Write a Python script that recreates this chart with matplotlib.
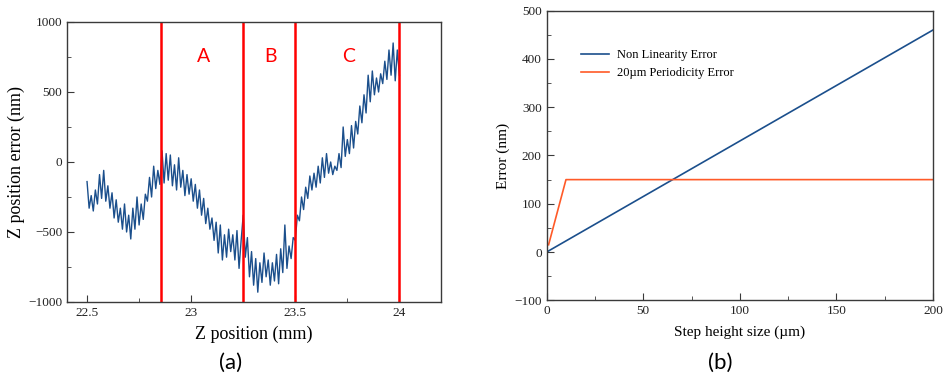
import matplotlib
matplotlib.use("Agg")
import numpy as np
import matplotlib.pyplot as plt
from matplotlib.ticker import AutoMinorLocator

z_start = 22.50
z_step = 0.01
z_error = [
    -140, -330, -240, -350, -200, -300, -90, -260, -60, -280,
    -170, -330, -220, -400, -270, -430, -330, -480, -300, -500,
    -380, -550, -330, -480, -250, -450, -300, -410, -230, -280,
    -110, -250, -30, -190, -60, -160, 80, -150, 60, -130,
    50, -170, -20, -200, 30, -180, -60, -240, -90, -230,
    -120, -280, -160, -330, -200, -380, -260, -440, -330, -480,
    -400, -560, -430, -650, -450, -700, -520, -680, -480, -640,
    -520, -700, -490, -760, -560, -380, -680, -540, -820, -640,
    -880, -690, -930, -720, -860, -650, -820, -700, -880, -720,
    -850, -660, -870, -620, -790, -450, -760, -600, -690, -540,
    -560, -380, -420, -250, -340, -180, -260, -100, -200, -80,
    -180, -30, -150, 30, -110, 60, -80, 0, -90, -30,
    -60, 60, -40, 250, 40, 160, 60, 260, 100, 290,
    200, 400, 280, 480, 350, 620, 430, 650, 480, 600,
    500, 630, 560, 720, 590, 800, 620, 850, 580, 800, 620,
]
region_bounds = [22.855, 23.247, 23.5, 24.0]
region_names = ["A", "B", "C"]
region_label_x = [23.06, 23.38, 23.755]

# (b) error budget vs step height
step_nl = [0, 200]
err_nl = [0, 460]
step_per = [1, 10, 200]
err_per = [15, 150, 150]

serif = "Liberation Serif"
sans = "Lato"
blue = "#1b4f8c"
orange = "#ff5a28"
spine_col = "#3a3a3a"

fig = plt.figure(figsize=(9.43, 3.78), dpi=100)

# ---- panel (a)
ax1 = fig.add_axes([0.0711, 0.2011, 0.3966, 0.7407])
z = z_start + z_step * np.arange(len(z_error))
ax1.plot(z, z_error, color=blue, lw=1.0)
for b in region_bounds:
    ax1.axvline(b, color="#ff0000", lw=1.8)
for name, lx in zip(region_names, region_label_x):
    ax1.text(lx, 750, name, color="#ff0000", fontsize=14, family=sans,
             ha="center", va="center")
ax1.set_xlim(22.404, 24.2)
ax1.set_ylim(-1000, 1000)
ax1.set_xticks([22.5, 23, 23.5, 24])
ax1.set_xticklabels(["22.5", "23", "23.5", "24"])
ax1.set_yticks([-1000, -500, 0, 500, 1000])
ax1.set_yticklabels(["\u22121000", "\u2212500", "0", "500", "1000"])
ax1.xaxis.set_minor_locator(AutoMinorLocator(2))
ax1.yaxis.set_minor_locator(AutoMinorLocator(2))
ax1.set_xlabel("Z position (mm)", fontsize=13, family=serif, labelpad=5)
ax1.set_ylabel("Z position error (nm)", fontsize=13, family=serif, labelpad=2)

# ---- panel (b)
ax2 = fig.add_axes([0.5797, 0.2056, 0.4097, 0.7661])
ax2.plot(step_nl, err_nl, color=blue, lw=1.2, label="Non Linearity Error")
ax2.plot(step_per, err_per, color=orange, lw=1.2, label="20\u00b5m Periodicity Error")
ax2.set_xlim(0, 200)
ax2.set_ylim(-100, 500)
ax2.set_xticks([0, 50, 100, 150, 200])
ax2.set_yticks([-100, 0, 100, 200, 300, 400, 500])
ax2.set_yticklabels(["\u2212100", "0", "100", "200", "300", "400", "500"])
ax2.xaxis.set_minor_locator(AutoMinorLocator(2))
ax2.yaxis.set_minor_locator(AutoMinorLocator(2))
ax2.set_xlabel("Step height size (\u00b5m)", fontsize=11, family=serif, labelpad=6)
ax2.set_ylabel("Error (nm)", fontsize=11, family=serif, labelpad=3)
ax2.legend(loc="upper left", bbox_to_anchor=(0.06, 0.905), frameon=False,
           prop={"family": serif, "size": 9}, handlelength=2.2,
           handletextpad=0.7, labelspacing=0.45)

for ax in (ax1, ax2):
    for s in ax.spines.values():
        s.set_color(spine_col)
        s.set_linewidth(1.0)
    ax.tick_params(which="both", direction="in", colors=spine_col,
                   labelcolor="#222222")
    ax.tick_params(which="major", length=5, labelsize=9.5)
    ax.tick_params(which="minor", length=3)
    for lab in ax.get_xticklabels() + ax.get_yticklabels():
        lab.set_family(serif)

fig.text(0.244, 0.040, "(a)", fontsize=16, family=sans, ha="center", va="center")
fig.text(0.764, 0.040, "(b)", fontsize=16, family=sans, ha="center", va="center")

fig.savefig("out.png", dpi=100)
